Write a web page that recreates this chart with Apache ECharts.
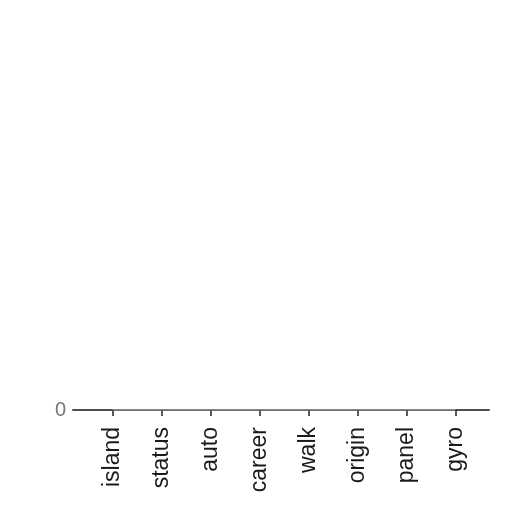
<!DOCTYPE html>
<html>
<head>
<meta charset="utf-8">
<script src="https://cdn.jsdelivr.net/npm/echarts@6/dist/echarts.min.js"></script>
<style>html,body{margin:0;padding:0;background:#fff}#c{width:512px;height:512px}</style>
</head>
<body>
<div id="c"></div>
<script>
const categories = ['island','status','auto','career','walk','origin','panel','gyro'];
const seriesA = [0, 0, 0, 0, 0, 0, 0, 0];
const seriesB = [0, 0, 0, 0, 0, 0, 0, 0];
const yTicks = [0, 1];

const chart = echarts.init(document.getElementById('c'));
chart.setOption({
  animation: false,
  backgroundColor: '#ffffff',
  grid: [
    {left: 73, right: 23, top: 400, bottom: 102},
    {left: 88, right: 32, top: 400, bottom: 102}
  ],
  xAxis: [
    {
      type: 'category', gridIndex: 0, data: categories, boundaryGap: true,
      axisLine: {show: true, lineStyle: {color: '#4a4f55', width: 2}},
      axisTick: {show: false}, axisLabel: {show: false}
    },
    {
      type: 'category', gridIndex: 1, data: categories, boundaryGap: true,
      axisLine: {show: false},
      axisTick: {show: true, alignWithLabel: true, length: 6, inside: false, lineStyle: {color: '#222', width: 1.5}},
      axisLabel: {show: true, rotate: 90, color: '#1a1a1a', fontSize: 23, fontFamily: 'Liberation Sans', margin: 17, interval: 0}
    }
  ],
  yAxis: [
    {
      type: 'value', gridIndex: 0, min: yTicks[0], max: yTicks[yTicks.length - 1], interval: 1,
      axisLine: {show: false}, axisTick: {show: false}, splitLine: {show: false},
      axisLabel: {show: true, showMinLabel: true, showMaxLabel: false, color: '#777', fontSize: 20,
        fontFamily: 'Liberation Sans', margin: 7, verticalAlign: 'middle',
        formatter: v => (v === 0 ? '0' : '')}
    },
    {
      type: 'value', gridIndex: 1, min: yTicks[0], max: yTicks[yTicks.length - 1], interval: 1,
      axisLine: {show: false}, axisTick: {show: false}, splitLine: {show: false}, axisLabel: {show: false}
    }
  ],
  series: [
    {type: 'line', xAxisIndex: 1, yAxisIndex: 1, data: seriesA, symbol: 'none', lineStyle: {color: '#6a8fb5', width: 1}},
    {type: 'line', xAxisIndex: 1, yAxisIndex: 1, data: seriesB, symbol: 'none', lineStyle: {color: '#c9a27a', width: 1}}
  ]
});
</script>
</body>
</html>
